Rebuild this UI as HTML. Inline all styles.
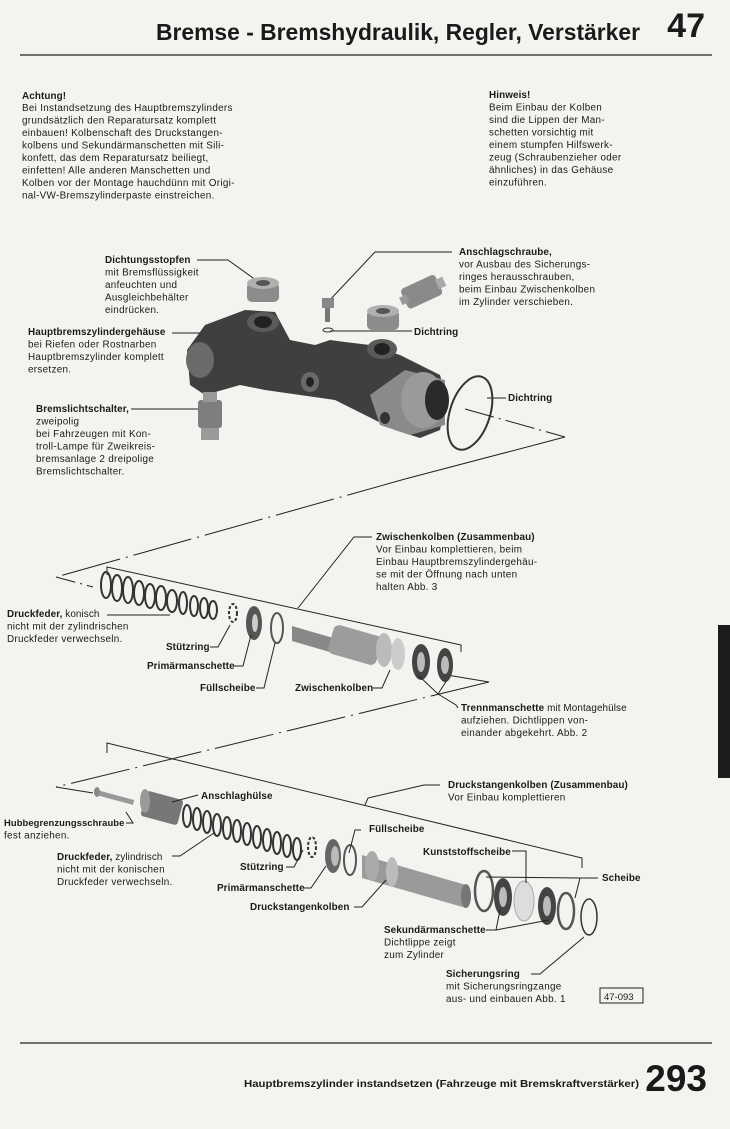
<!DOCTYPE html>
<html><head><meta charset="utf-8"><style>
html,body{margin:0;padding:0;background:#f3f3f0}
svg{display:block}
text{font-family:"Liberation Sans",sans-serif;fill:#1a1a1a}
.t{font-size:9.9px;letter-spacing:0.3px}
.t .b,.t text.b{letter-spacing:0.1px}
.b{font-weight:bold}
</style></head><body>
<svg width="730" height="1129" viewBox="0 0 730 1129" xmlns="http://www.w3.org/2000/svg">
<rect width="730" height="1129" fill="#f3f3f0"/>
<!-- header -->
<text x="640" y="40" text-anchor="end" class="b" style="font-size:23px" textLength="484" lengthAdjust="spacingAndGlyphs">Bremse - Bremshydraulik, Regler, Verstärker</text>
<text x="705" y="37" text-anchor="end" class="b" style="font-size:34px">47</text>
<line x1="20" y1="55" x2="712" y2="55" stroke="#222" stroke-width="1.3"/>
<rect x="718" y="625" width="12" height="153" fill="#1c1c1c"/>

<!-- Achtung -->
<g class="t">
<text x="22" y="99" class="b">Achtung!</text>
<text x="22" y="111">Bei Instandsetzung des Hauptbremszylinders</text>
<text x="22" y="123.5">grundsätzlich den Reparatursatz komplett</text>
<text x="22" y="136">einbauen! Kolbenschaft des Druckstangen-</text>
<text x="22" y="148.5">kolbens und Sekundärmanschetten mit Sili-</text>
<text x="22" y="161">konfett, das dem Reparatursatz beiliegt,</text>
<text x="22" y="173.5">einfetten! Alle anderen Manschetten und</text>
<text x="22" y="186">Kolben vor der Montage hauchdünn mit Origi-</text>
<text x="22" y="198.5">nal-VW-Bremszylinderpaste einstreichen.</text>
</g>
<g class="t">
<text x="489" y="98" class="b">Hinweis!</text>
<text x="489" y="110.5">Beim Einbau der Kolben</text>
<text x="489" y="123">sind die Lippen der Man-</text>
<text x="489" y="135.5">schetten vorsichtig mit</text>
<text x="489" y="148">einem stumpfen Hilfswerk-</text>
<text x="489" y="160.5">zeug (Schraubenzieher oder</text>
<text x="489" y="173">ähnliches) in das Gehäuse</text>
<text x="489" y="185.5">einzuführen.</text>
</g>

<!-- top labels -->
<g class="t">
<text x="105" y="263" class="b">Dichtungsstopfen</text>
<text x="105" y="275.5">mit Bremsflüssigkeit</text>
<text x="105" y="288">anfeuchten und</text>
<text x="105" y="300.5">Ausgleichbehälter</text>
<text x="105" y="313">eindrücken.</text>
<text x="28" y="335" class="b">Hauptbremszylindergehäuse</text>
<text x="28" y="347.5">bei Riefen oder Rostnarben</text>
<text x="28" y="360">Hauptbremszylinder komplett</text>
<text x="28" y="372.5">ersetzen.</text>
<text x="36" y="412" class="b">Bremslichtschalter,</text>
<text x="36" y="424.5">zweipolig</text>
<text x="36" y="437">bei Fahrzeugen mit Kon-</text>
<text x="36" y="449.5">troll-Lampe für Zweikreis-</text>
<text x="36" y="462">bremsanlage 2 dreipolige</text>
<text x="36" y="474.5">Bremslichtschalter.</text>
<text x="459" y="255" class="b">Anschlagschraube,</text>
<text x="459" y="267.5">vor Ausbau des Sicherungs-</text>
<text x="459" y="280">ringes herausschrauben,</text>
<text x="459" y="292.5">beim Einbau Zwischenkolben</text>
<text x="459" y="305">im Zylinder verschieben.</text>
<text x="414" y="335" class="b">Dichtring</text>
<text x="508" y="401" class="b">Dichtring</text>
</g>
<g stroke="#222" stroke-width="1" fill="none">
<polyline points="197,260 228,260 260,283"/>
<polyline points="452,252 375,252 327,303"/>
<line x1="172" y1="333" x2="205" y2="333"/>
<line x1="131" y1="409" x2="205" y2="409"/>
<line x1="330" y1="331" x2="412" y2="331"/>
<line x1="487" y1="398" x2="506" y2="398"/>
</g>

<!-- main body -->
<polygon points="187,350 205,325 245,310 275,312 290,340 315,345 330,340 345,342 370,345 400,355 420,365 440,375 447,400 440,430 420,438 395,430 375,420 335,400 300,395 265,390 240,385 205,395 190,385" fill="#3f3f3f"/>
<ellipse cx="200" cy="360" rx="14" ry="18" fill="#6a6a6a"/>
<ellipse cx="263" cy="322" rx="16" ry="10" fill="#5a5a5a"/><ellipse cx="263" cy="322" rx="9" ry="6" fill="#222"/>
<ellipse cx="382" cy="349" rx="15" ry="10" fill="#5a5a5a"/><ellipse cx="382" cy="349" rx="8" ry="6" fill="#222"/>
<ellipse cx="310" cy="382" rx="9" ry="10" fill="#6a6a6a"/><ellipse cx="310" cy="382" rx="4" ry="5" fill="#222"/>
<polygon points="370,395 405,370 445,380 445,425 410,435 380,425" fill="#8a8a8a"/>
<ellipse cx="423" cy="400" rx="22" ry="28" fill="#9a9a9a"/>
<ellipse cx="437" cy="400" rx="12" ry="20" fill="#2a2a2a"/>
<ellipse cx="385" cy="418" rx="5" ry="6" fill="#333"/>
<rect x="247" y="282" width="32" height="20" rx="5" fill="#8c8c8c"/><ellipse cx="263" cy="283" rx="16" ry="6" fill="#b0b0b0"/><ellipse cx="263" cy="283" rx="7" ry="3" fill="#555"/>
<rect x="367" y="310" width="32" height="20" rx="5" fill="#8c8c8c"/><ellipse cx="383" cy="311" rx="16" ry="6" fill="#b0b0b0"/><ellipse cx="383" cy="311" rx="7" ry="3" fill="#555"/>
<rect x="322" y="298" width="12" height="10" fill="#888"/><rect x="325" y="308" width="5" height="14" fill="#777"/>
<ellipse cx="328" cy="330" rx="5" ry="2" fill="none" stroke="#333"/>
<g transform="rotate(-25 423 290)"><rect x="402" y="280" width="38" height="22" rx="4" fill="#8a8a8a"/><rect x="398" y="287" width="8" height="8" fill="#999"/><rect x="438" y="286" width="8" height="10" fill="#aaa"/></g>
<rect x="198" y="400" width="24" height="28" rx="3" fill="#7e7e7e"/><rect x="203" y="392" width="14" height="10" fill="#999"/><rect x="201" y="428" width="18" height="12" fill="#9a9a9a"/>
<ellipse cx="470" cy="413" rx="20" ry="38" transform="rotate(18 470 413)" fill="none" stroke="#333" stroke-width="2"/>

<!-- guide lines -->
<g stroke="#222" stroke-width="1" fill="none">
<line x1="465" y1="409" x2="565" y2="437" stroke-dasharray="30,5,2,5"/>
<line x1="565" y1="437" x2="405" y2="479"/>
<line x1="405" y1="479" x2="56" y2="577" stroke-dasharray="60,6,2,6"/>
<line x1="56" y1="577" x2="93" y2="587" stroke-dasharray="20,5,2,5"/>
<polyline points="107,575 107,567 461,645 461,652"/>
<line x1="447" y1="675" x2="489" y2="682"/>
<line x1="489" y1="682" x2="56" y2="787" stroke-dasharray="60,6,2,6"/>
<line x1="56" y1="787" x2="93" y2="793"/>
<polyline points="107,753 107,743 582,858 582,868"/>
</g>

<!-- middle assembly -->
<g fill="none" stroke="#333" stroke-width="2">
<ellipse cx="106" cy="585" rx="5" ry="13"/><ellipse cx="117" cy="588" rx="5" ry="13"/><ellipse cx="128" cy="590" rx="5" ry="13"/><ellipse cx="139" cy="593" rx="5" ry="12"/><ellipse cx="150" cy="596" rx="5" ry="12"/><ellipse cx="161" cy="598" rx="5" ry="12"/><ellipse cx="172" cy="601" rx="5" ry="11"/><ellipse cx="183" cy="603" rx="4" ry="11"/><ellipse cx="194" cy="606" rx="4" ry="10"/><ellipse cx="204" cy="608" rx="4" ry="10"/><ellipse cx="213" cy="610" rx="4" ry="9"/>
<ellipse cx="233" cy="613" rx="4" ry="9" stroke-dasharray="3,2"/>
</g>
<ellipse cx="254" cy="623" rx="8" ry="17" fill="#555"/><ellipse cx="255" cy="623" rx="3" ry="9" fill="#ccc"/>
<ellipse cx="277" cy="628" rx="6" ry="15" fill="none" stroke="#555" stroke-width="2"/>
<polygon points="292,626 340,640 340,655 292,641" fill="#888"/>
<rect x="330" y="630" width="50" height="30" rx="6" transform="rotate(16 355 645)" fill="#9c9c9c"/>
<ellipse cx="384" cy="650" rx="8" ry="17" fill="#bbb"/><ellipse cx="398" cy="654" rx="7" ry="16" fill="#ccc"/>
<ellipse cx="421" cy="662" rx="9" ry="18" fill="#444"/><ellipse cx="421" cy="662" rx="4" ry="10" fill="#bbb"/>
<ellipse cx="445" cy="665" rx="8" ry="17" fill="#444"/><ellipse cx="445" cy="665" rx="4" ry="9" fill="#bbb"/>

<g class="t">
<text x="376" y="540" class="b">Zwischenkolben (Zusammenbau)</text>
<text x="376" y="552.5">Vor Einbau komplettieren, beim</text>
<text x="376" y="565">Einbau Hauptbremszylindergehäu-</text>
<text x="376" y="577.5">se mit der Öffnung nach unten</text>
<text x="376" y="590">halten    Abb. 3</text>
<text x="7" y="617" class="b">Druckfeder,<tspan font-weight="normal"> konisch</tspan></text>
<text x="7" y="629.5">nicht mit der zylindrischen</text>
<text x="7" y="642">Druckfeder verwechseln.</text>
<text x="166" y="650" class="b">Stützring</text>
<text x="147" y="669" class="b">Primärmanschette</text>
<text x="200" y="691" class="b">Füllscheibe</text>
<text x="295" y="691" class="b">Zwischenkolben</text>
<text x="461" y="711" class="b">Trennmanschette<tspan font-weight="normal"> mit Montagehülse</tspan></text>
<text x="461" y="723.5">aufziehen. Dichtlippen von-</text>
<text x="461" y="736">einander abgekehrt.   Abb. 2</text>
</g>
<g stroke="#222" stroke-width="1" fill="none">
<polyline points="298,608 354,537 372,537"/>
<line x1="107" y1="615" x2="170" y2="615"/>
<polyline points="210,647 218,647 230,625"/>
<polyline points="234,666 243,666 251,635"/>
<polyline points="256,688 264,688 275,643"/>
<polyline points="373,688 382,688 390,670"/>
<polyline points="419,676 438,694 447,680"/>
<polyline points="438,694 456,705 458,708"/>
</g>

<!-- bottom assembly -->
<g class="t">
<text x="201" y="799" class="b">Anschlaghülse</text>
<text x="448" y="788" class="b">Druckstangenkolben (Zusammenbau)</text>
<text x="448" y="800.5">Vor Einbau komplettieren</text>
<text x="4" y="826" class="b" style="font-size:9.4px">Hubbegrenzungsschraube</text>
<text x="4" y="838.5">fest anziehen.</text>
<text x="57" y="860" class="b">Druckfeder,<tspan font-weight="normal"> zylindrisch</tspan></text>
<text x="57" y="872.5">nicht mit der konischen</text>
<text x="57" y="885">Druckfeder verwechseln.</text>
<text x="369" y="832" class="b">Füllscheibe</text>
<text x="240" y="870" class="b">Stützring</text>
<text x="217" y="891" class="b">Primärmanschette</text>
<text x="250" y="910" class="b">Druckstangenkolben</text>
<text x="423" y="855" class="b">Kunststoffscheibe</text>
<text x="602" y="881" class="b">Scheibe</text>
<text x="384" y="933" class="b">Sekundärmanschette</text>
<text x="384" y="945.5">Dichtlippe zeigt</text>
<text x="384" y="958">zum Zylinder</text>
<text x="446" y="977" class="b">Sicherungsring</text>
<text x="446" y="989.5">mit Sicherungsringzange</text>
<text x="446" y="1002">aus- und einbauen Abb. 1</text>
<text x="604" y="1000" style="font-size:9.5px;letter-spacing:0">47-093</text>
</g>
<rect x="600" y="988" width="43" height="15" fill="none" stroke="#222" stroke-width="1"/>

<rect x="96" y="795" width="38" height="5" transform="rotate(15 115 798)" fill="#999"/>
<ellipse cx="97" cy="792" rx="3" ry="5" fill="#888"/>
<rect x="143" y="795" width="38" height="26" rx="3" transform="rotate(15 162 808)" fill="#777"/>
<ellipse cx="145" cy="801" rx="5" ry="12" fill="#999"/>
<g fill="none" stroke="#333" stroke-width="2">
<ellipse cx="187" cy="816" rx="4" ry="11"/><ellipse cx="197" cy="819" rx="4" ry="11"/><ellipse cx="207" cy="822" rx="4" ry="11"/><ellipse cx="217" cy="825" rx="4" ry="11"/><ellipse cx="227" cy="828" rx="4" ry="11"/><ellipse cx="237" cy="831" rx="4" ry="11"/><ellipse cx="247" cy="834" rx="4" ry="11"/><ellipse cx="257" cy="837" rx="4" ry="11"/><ellipse cx="267" cy="840" rx="4" ry="11"/><ellipse cx="277" cy="843" rx="4" ry="11"/><ellipse cx="287" cy="846" rx="4" ry="11"/><ellipse cx="297" cy="849" rx="4" ry="11"/>
<ellipse cx="312" cy="847" rx="4" ry="10" stroke-dasharray="3,2"/>
</g>
<ellipse cx="333" cy="856" rx="8" ry="17" fill="#666"/><ellipse cx="335" cy="856" rx="4" ry="10" fill="#bbb"/>
<ellipse cx="350" cy="860" rx="6" ry="15" fill="none" stroke="#555" stroke-width="2"/>
<polygon points="362,855 466,885 466,908 362,878" fill="#9a9a9a"/>
<ellipse cx="372" cy="866" rx="7" ry="15" fill="#aaa"/><ellipse cx="392" cy="872" rx="6" ry="15" fill="#bbb"/>
<ellipse cx="466" cy="896" rx="5" ry="12" fill="#777"/>
<ellipse cx="484" cy="891" rx="9" ry="20" fill="none" stroke="#555" stroke-width="2.5"/>
<ellipse cx="503" cy="897" rx="9" ry="19" fill="#444"/><ellipse cx="503" cy="897" rx="4" ry="10" fill="#bbb"/>
<ellipse cx="524" cy="901" rx="10" ry="20" fill="#ddd" stroke="#aaa"/>
<ellipse cx="547" cy="906" rx="9" ry="19" fill="#444"/><ellipse cx="547" cy="906" rx="4" ry="10" fill="#bbb"/>
<ellipse cx="566" cy="911" rx="8" ry="18" fill="none" stroke="#555" stroke-width="2.5"/>
<ellipse cx="589" cy="917" rx="8" ry="18" fill="none" stroke="#333" stroke-width="1.5"/>

<g stroke="#222" stroke-width="1" fill="none">
<polyline points="365,805 368,798 424,785 440,785"/>
<line x1="172" y1="802" x2="198" y2="795"/>
<polyline points="126,823 133,823 126,812"/>
<polyline points="172,856 180,856 214,833"/>
<polyline points="286,867 294,867 303,850"/>
<polyline points="303,888 311,888 326,866"/>
<polyline points="354,907 362,907 386,880"/>
<polyline points="361,830 355,830 349,853"/>
<polyline points="512,851 526,851 526,883"/>
<polyline points="598,878 580,878 575,898"/>
<line x1="580" y1="878" x2="486" y2="877"/>
<polyline points="486,930 496,930 500,910"/>
<line x1="496" y1="930" x2="549" y2="920"/>
<polyline points="531,974 540,974 584,937"/>
</g>

<!-- footer -->
<line x1="20" y1="1043" x2="712" y2="1043" stroke="#222" stroke-width="1.3"/>
<text x="639" y="1087" text-anchor="end" class="b" style="font-size:10.5px" textLength="395" lengthAdjust="spacingAndGlyphs">Hauptbremszylinder instandsetzen (Fahrzeuge mit Bremskraftverstärker)</text>
<text x="707" y="1091" text-anchor="end" class="b" style="font-size:37px">293</text>
</svg>
</body></html>
